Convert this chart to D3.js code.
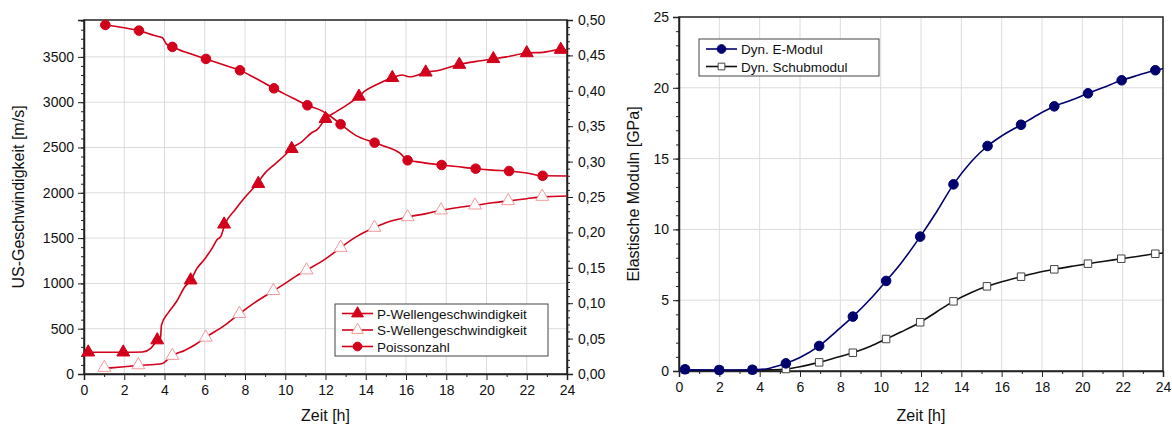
<!DOCTYPE html>
<html>
<head>
<meta charset="utf-8">
<script src="https://cdn.jsdelivr.net/npm/d3@7"></script>
<style>
  body { margin: 0; background: #fff; }
  svg { font-family: "Liberation Sans", Arial, sans-serif; }
  .grid line { stroke: #dcdcdc; stroke-width: 1; }
  .axis path, .axis line { stroke: #222; }
  .axis text { font-size: 14px; fill: #111; }
</style>
</head>
<body>
<script>
// ---- data ----
const hourTicks = [0, 2, 4, 6, 8, 10, 12, 14, 16, 18, 20, 22, 24];
const velTicks = [0, 500, 1000, 1500, 2000, 2500, 3000, 3500];
const poissonTicks = [0, 0.05, 0.1, 0.15, 0.2, 0.25, 0.3, 0.35, 0.4, 0.45, 0.5];
const modulTicks = [0, 5, 10, 15, 20, 25];

// P-wave velocity [m/s]
const pLine = [
  [0.2, 240], [1.0, 240], [2.0, 240], [2.9, 242], [3.3, 280], [3.6, 360], [3.8, 400],
  [3.85, 540], [4.2, 680], [4.6, 800], [5.0, 960], [5.3, 1035], [5.6, 1160], [6.0, 1270],
  [6.4, 1400], [6.6, 1480], [6.8, 1520], [7.0, 1650], [7.5, 1810], [8.0, 1950],
  [8.6, 2100], [9.0, 2220], [9.5, 2320], [10.0, 2420], [10.3, 2490], [10.8, 2560],
  [11.3, 2660], [11.6, 2700], [12.0, 2817], [12.5, 2890], [13.0, 2960], [13.66, 3063],
  [14.0, 3130], [14.5, 3190], [15.32, 3269], [15.8, 3300], [16.2, 3280], [16.98, 3330],
  [17.6, 3350], [18.65, 3415], [19.5, 3450], [20.34, 3478], [21.0, 3500], [22.0, 3543],
  [22.8, 3550], [23.69, 3580], [24.0, 3575]
];
const pMarks = [
  [0.21, 240], [1.95, 240], [3.64, 374], [5.3, 1035], [6.96, 1652], [8.66, 2100],
  [10.32, 2486], [12.0, 2817], [13.66, 3063], [15.32, 3269], [16.98, 3330],
  [18.65, 3415], [20.34, 3478], [22.0, 3543], [23.69, 3580]
];

// S-wave velocity [m/s]
const sLine = [
  [1.2, 65], [2.0, 80], [2.7, 95], [3.5, 105], [3.9, 115], [4.2, 170], [4.39, 202],
  [5.0, 260], [5.5, 320], [6.05, 404], [7.0, 540], [7.72, 665], [8.5, 790], [9.41, 918],
  [10.0, 1000], [10.5, 1075], [11.06, 1146], [12.0, 1270], [12.75, 1395], [13.5, 1510],
  [14.43, 1616], [15.0, 1670], [16.08, 1733], [17.0, 1770], [17.74, 1807], [18.5, 1835],
  [19.43, 1862], [20.3, 1890], [21.08, 1910], [22.0, 1935], [22.77, 1955], [24.0, 1965]
];
const sMarks = [
  [1.01, 70], [2.7, 99], [4.39, 202], [6.05, 404], [7.72, 665], [9.41, 918],
  [11.06, 1146], [12.75, 1395], [14.43, 1616], [16.08, 1733], [17.74, 1807],
  [19.43, 1862], [21.08, 1910], [22.77, 1958]
];

// Poisson's ratio [-]
const nuLine = [
  [1.06, 0.493], [2.0, 0.489], [2.73, 0.485], [3.5, 0.478], [3.9, 0.475], [4.1, 0.466],
  [4.39, 0.462], [5.0, 0.455], [6.06, 0.445], [7.0, 0.436], [7.75, 0.429], [8.5, 0.418],
  [9.44, 0.4035], [10.0, 0.395], [10.5, 0.388], [11.1, 0.3795], [11.8, 0.372],
  [12.3, 0.363], [12.75, 0.3527], [13.5, 0.337], [14.44, 0.3267], [15.0, 0.321],
  [15.7, 0.312], [16.08, 0.302], [16.5, 0.3], [17.77, 0.2952], [18.5, 0.293],
  [19.46, 0.29], [20.3, 0.288], [21.12, 0.2867], [22.0, 0.284], [22.79, 0.28], [24.0, 0.2797]
];
const nuMarks = [
  [1.06, 0.493], [2.73, 0.485], [4.39, 0.462], [6.06, 0.445], [7.75, 0.429],
  [9.44, 0.4035], [11.1, 0.3795], [12.75, 0.3527], [14.44, 0.3267], [16.08, 0.3018],
  [17.77, 0.2952], [19.46, 0.29], [21.12, 0.2867], [22.79, 0.28]
];

// Dynamic E modulus [GPa]
const eLine = [
  [0.3, 0.08], [2.0, 0.07], [3.64, 0.08], [4.5, 0.2], [5.3, 0.54], [6.0, 0.95],
  [6.95, 1.77], [7.8, 2.8], [8.62, 3.84], [9.5, 5.1], [10.27, 6.36], [11.0, 7.6],
  [11.96, 9.49], [12.8, 11.3], [13.61, 13.18], [14.5, 14.8], [15.3, 15.89], [16.0, 16.6],
  [16.96, 17.39], [17.8, 18.1], [18.61, 18.69], [19.5, 19.15], [20.28, 19.61],
  [21.0, 20.0], [21.95, 20.53], [22.8, 20.9], [23.62, 21.24], [24.0, 21.35]
];
const eMarks = [
  [0.3, 0.12], [1.99, 0.07], [3.64, 0.09], [5.3, 0.54], [6.95, 1.77], [8.62, 3.84],
  [10.27, 6.36], [11.96, 9.49], [13.61, 13.18], [15.3, 15.89], [16.96, 17.39],
  [18.61, 18.69], [20.28, 19.61], [21.95, 20.53], [23.62, 21.24]
];

// Dynamic shear modulus [GPa]
const gLine = [
  [0.3, 0.05], [2.0, 0.05], [3.64, 0.05], [4.5, 0.08], [5.3, 0.14], [6.0, 0.3],
  [6.95, 0.61], [7.8, 0.95], [8.62, 1.29], [9.5, 1.75], [10.27, 2.26], [11.0, 2.75],
  [11.96, 3.44], [12.8, 4.2], [13.61, 4.92], [14.5, 5.55], [15.27, 5.98], [16.0, 6.3],
  [16.96, 6.66], [17.8, 6.95], [18.61, 7.18], [19.5, 7.4], [20.28, 7.58], [21.1, 7.75],
  [21.93, 7.93], [22.8, 8.1], [23.62, 8.28], [24.0, 8.33]
];
const gMarks = [
  [0.3, 0.1], [2.0, 0.07], [3.64, 0.07], [5.3, 0.14], [6.95, 0.61], [8.62, 1.29],
  [10.27, 2.26], [11.96, 3.44], [13.61, 4.92], [15.27, 5.98], [16.96, 6.66],
  [18.61, 7.18], [20.28, 7.58], [21.93, 7.93], [23.62, 8.28]
];

const red = "#d2001a";
const pink = "#f29a9a";
const navy = "#00006e";

const svg = d3.select("body").append("svg")
  .attr("width", 1172).attr("height", 431);

const fmtComma = d3.format(".2f");

function drawPanel(o) {
  const g = svg.append("g");
  const x = d3.scaleLinear().domain([0, 24]).range([o.left, o.right]);
  const y = d3.scaleLinear().domain(o.yDomain).range([o.bottom, o.top]);

  // grid
  const grid = g.append("g").attr("class", "grid");
  grid.selectAll(".gx").data(hourTicks.slice(1, -1)).enter().append("line")
    .attr("x1", d => x(d)).attr("x2", d => x(d))
    .attr("y1", o.top).attr("y2", o.bottom);
  grid.selectAll(".gy").data(o.yTicks.slice(1).filter(d => y(d) > o.top + 1)).enter().append("line")
    .attr("x1", o.left).attr("x2", o.right)
    .attr("y1", d => y(d)).attr("y2", d => y(d));

  // frame
  g.append("rect")
    .attr("x", o.left).attr("y", o.top)
    .attr("width", o.right - o.left).attr("height", o.bottom - o.top)
    .attr("fill", "none").attr("stroke", "#222").attr("stroke-width", 1.5);

  // x axis: major + minor
  const xAx = g.append("g").attr("class", "axis")
    .attr("transform", "translate(0," + o.bottom + ")")
    .call(d3.axisBottom(x).tickValues(hourTicks).tickSize(6).tickPadding(5));
  xAx.select(".domain").attr("stroke-width", 1.5);
  g.append("g").attr("class", "axis")
    .attr("transform", "translate(0," + o.bottom + ")")
    .call(d3.axisBottom(x).tickValues(d3.range(1, 24, 2)).tickSize(3).tickFormat(""))
    .select(".domain").remove();

  // y axis left
  const yAx = g.append("g").attr("class", "axis")
    .attr("transform", "translate(" + o.left + ",0)")
    .call(d3.axisLeft(y).tickValues(o.yTicks).tickSize(6).tickPadding(4).tickFormat(d3.format("d")));
  yAx.select(".domain").attr("stroke-width", 1.5);
  g.append("g").attr("class", "axis")
    .attr("transform", "translate(" + o.left + ",0)")
    .call(d3.axisLeft(y).tickValues(o.yMinor).tickSize(3).tickFormat(""))
    .select(".domain").remove();

  g.append("text")
    .attr("transform", "translate(" + o.yLabelX + "," + ((o.top + o.bottom) / 2) + ") rotate(-90)")
    .attr("text-anchor", "middle").attr("font-size", 16).attr("fill", "#111")
    .text(o.yLabel);
  g.append("text")
    .attr("x", (o.left + o.right) / 2).attr("y", 421)
    .attr("text-anchor", "middle").attr("font-size", 16).attr("fill", "#111")
    .text("Zeit [h]");

  return { g, x, y };
}

function drawSeries(g, x, y, line, marks, color, shape, fill, mstroke) {
  g.append("path")
    .datum(line)
    .attr("fill", "none").attr("stroke", color).attr("stroke-width", 1.6)
    .attr("d", d3.line().x(d => x(d[0])).y(d => y(d[1])).curve(d3.curveMonotoneX));
  const sym = d3.symbol().type(shape).size(shape === d3.symbolSquare ? 56 : 72);
  g.selectAll(null).data(marks).enter().append("path")
    .attr("d", sym)
    .attr("transform", d => "translate(" + x(d[0]) + "," + y(d[1]) + ")")
    .attr("fill", fill).attr("stroke", mstroke).attr("stroke-width", 1);
}

// ---- left panel ----
const L = drawPanel({
  left: 84, right: 567, top: 20, bottom: 374,
  yDomain: [0, 3907], yTicks: velTicks,
  yMinor: d3.range(0, 3901, 100),
  yLabel: "US-Geschwindigkeit [m/s]", yLabelX: 24
});
const yNu = d3.scaleLinear().domain([0, 0.5]).range([374, 20]);
const rAx = L.g.append("g").attr("class", "axis")
  .attr("transform", "translate(567,0)")
  .call(d3.axisRight(yNu).tickValues(poissonTicks).tickSize(6).tickPadding(5)
    .tickFormat(d => fmtComma(d).replace(".", ",")));
rAx.select(".domain").attr("stroke-width", 1.5);
L.g.append("g").attr("class", "axis")
  .attr("transform", "translate(567,0)")
  .call(d3.axisRight(yNu).tickValues(d3.range(0, 51).map(d => d / 100)).tickSize(3).tickFormat(""))
  .select(".domain").remove();

drawSeries(L.g, L.x, L.y, sLine, sMarks, red, d3.symbolTriangle, "#fff", pink);
drawSeries(L.g, L.x, L.y, pLine, pMarks, red, d3.symbolTriangle, red, red);
drawSeries(L.g, L.x, yNu, nuLine, nuMarks, red, d3.symbolCircle, red, red);

// ---- right panel ----
const R = drawPanel({
  left: 679, right: 1163, top: 17, bottom: 371,
  yDomain: [0, 25], yTicks: modulTicks,
  yMinor: d3.range(0, 26, 1),
  yLabel: "Elastische Moduln [GPa]", yLabelX: 639
});
drawSeries(R.g, R.x, R.y, gLine, gMarks, "#111", d3.symbolSquare, "#fff", "#444");
drawSeries(R.g, R.x, R.y, eLine, eMarks, navy, d3.symbolCircle, navy, navy);

// ---- legends ----
function legend(box, items) {
  const lg = svg.append("g");
  lg.append("rect").attr("x", box.x).attr("y", box.y)
    .attr("width", box.w).attr("height", box.h)
    .attr("fill", "#fff").attr("stroke", "#444").attr("stroke-width", 1);
  items.forEach((it, i) => {
    const cy = box.y + box.first + i * box.step;
    lg.append("line").attr("x1", box.x + 7).attr("x2", box.x + 38)
      .attr("y1", cy).attr("y2", cy).attr("stroke", it.color).attr("stroke-width", 1.6);
    lg.append("path")
      .attr("d", d3.symbol().type(it.shape).size(it.shape === d3.symbolSquare ? 45 : 60))
      .attr("transform", "translate(" + (box.x + 22.5) + "," + cy + ")")
      .attr("fill", it.fill).attr("stroke", it.stroke);
    lg.append("text").attr("x", box.x + 42).attr("y", cy + 5)
      .attr("font-size", 13.5).attr("fill", "#111").text(it.label);
  });
}
legend({ x: 335, y: 304, w: 213, h: 52, first: 9.5, step: 16.5 }, [
  { label: "P-Wellengeschwindigkeit", color: red, shape: d3.symbolTriangle, fill: red, stroke: red },
  { label: "S-Wellengeschwindigkeit", color: red, shape: d3.symbolTriangle, fill: "#fff", stroke: pink },
  { label: "Poissonzahl", color: red, shape: d3.symbolCircle, fill: red, stroke: red }
]);
legend({ x: 699, y: 39, w: 180, h: 37, first: 10, step: 17.5 }, [
  { label: "Dyn. E-Modul", color: navy, shape: d3.symbolCircle, fill: navy, stroke: navy },
  { label: "Dyn. Schubmodul", color: "#111", shape: d3.symbolSquare, fill: "#fff", stroke: "#444" }
]);
</script>
</body>
</html>
